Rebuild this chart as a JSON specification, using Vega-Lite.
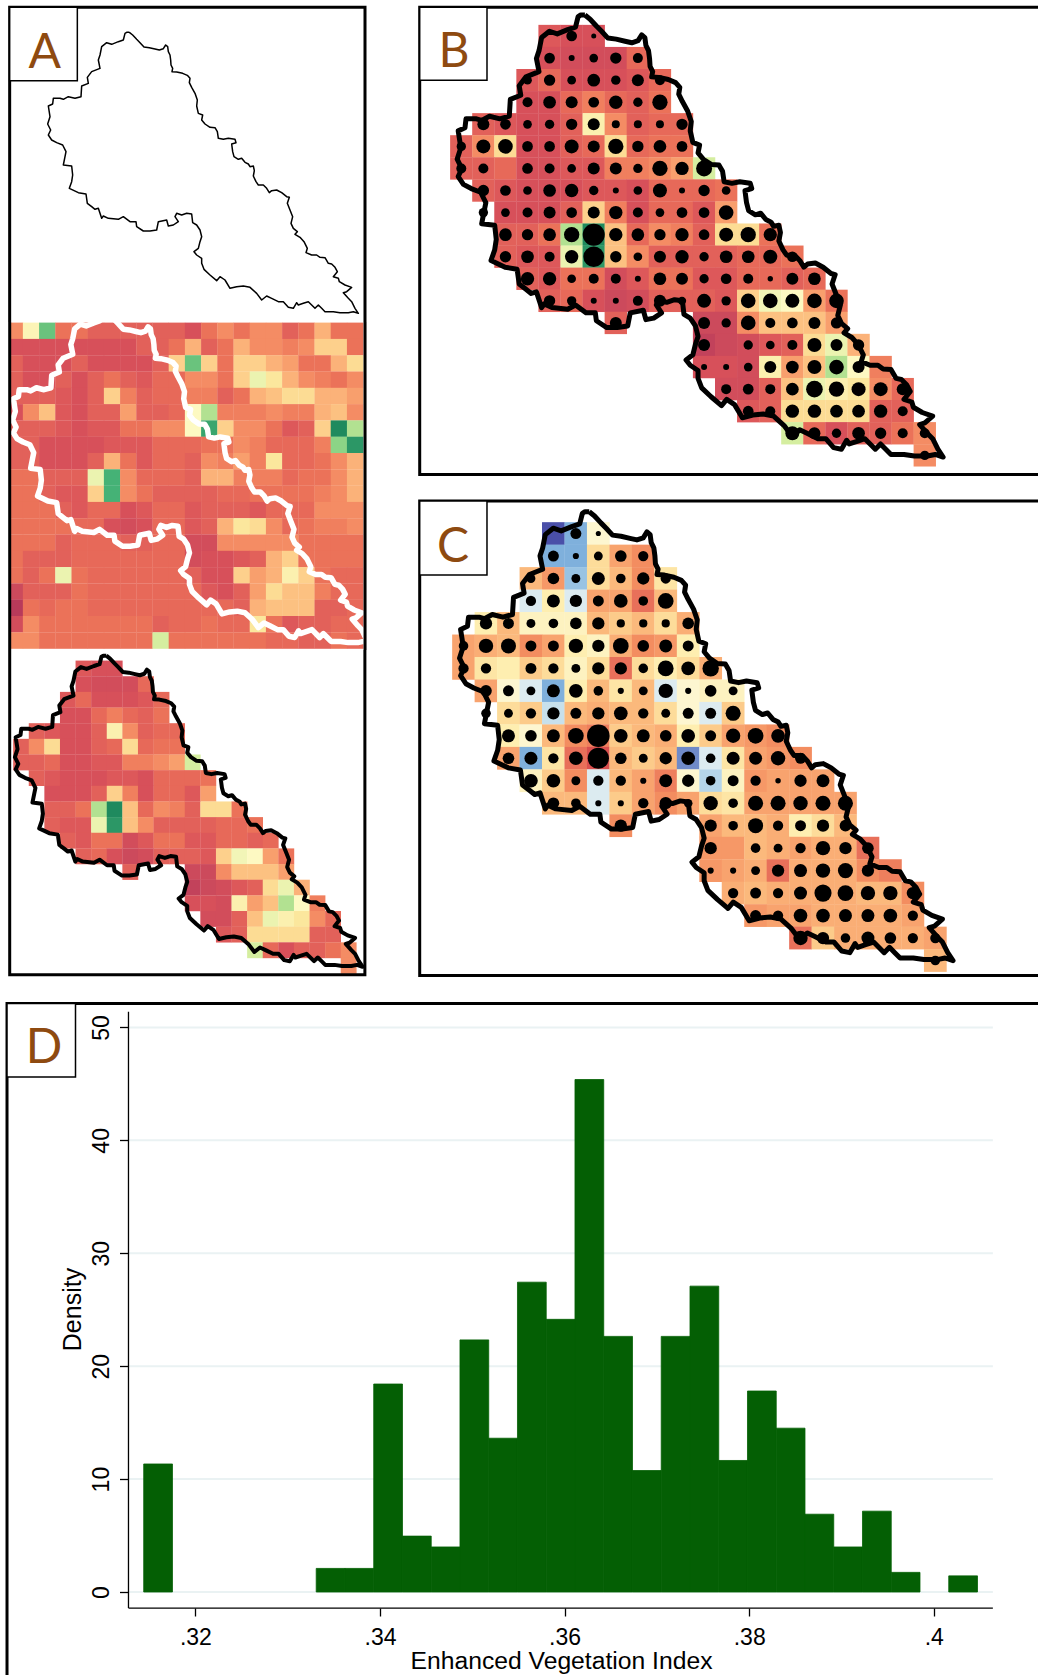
{"$schema":"https://vega.github.io/schema/vega-lite/v6.json","padding":0,"background":"white","autosize":{"type":"pad"},"spacing":0,
"resolve":{"scale":{"color":"independent","size":"independent"}},
"config":{"view":{"stroke":null},"concat":{"spacing":0}},
"datasets":{
"boundary":[[388,97],[398,105],[410,118],[420,128],[432,141],[448,143],[465,147],[478,150],[490,146],[497,135],[503,140],[505,155],[510,165],[512,180],[513,195],[518,205],[516,215],[530,216],[548,220],[562,226],[570,235],[568,248],[575,262],[585,280],[592,300],[590,318],[595,340],[608,345],[605,360],[615,372],[630,382],[645,383],[652,395],[655,415],[670,418],[685,415],[705,418],[708,428],[695,432],[698,455],[702,470],[715,478],[725,475],[735,487],[745,492],[750,500],[760,498],[763,512],[760,528],[768,545],[775,555],[790,555],[800,565],[808,578],[815,572],[830,570],[845,578],[860,590],[868,592],[862,610],[870,630],[878,650],[873,670],[880,685],[892,695],[885,703],[900,712],[912,725],[922,745],[918,758],[935,765],[950,765],[960,772],[975,773],[985,790],[995,792],[1005,802],[1012,815],[1000,830],[1015,835],[1018,845],[1035,855],[1055,862],[1040,875],[1030,878],[1045,895],[1055,905],[1065,925],[1075,940],[1060,935],[1045,938],[1020,938],[1000,935],[975,935],[965,925],[955,915],[945,925],[925,905],[910,910],[895,915],[890,908],[880,925],[865,922],[850,905],[835,905],[815,895],[800,888],[785,900],[770,880],[750,862],[730,858],[710,860],[690,865],[675,840],[660,830],[650,842],[630,825],[612,808],[605,790],[605,775],[590,765],[582,755],[595,745],[600,725],[605,710],[600,690],[590,675],[578,668],[575,642],[560,640],[545,645],[530,640],[525,650],[535,665],[520,675],[505,678],[500,660],[475,665],[470,690],[450,693],[430,693],[410,680],[408,665],[390,665],[370,650],[355,658],[325,655],[310,648],[305,655],[295,625],[285,628],[275,620],[262,610],[258,582],[235,578],[208,565],[215,545],[218,525],[215,498],[190,495],[195,470],[198,455],[188,435],[170,428],[155,420],[145,405],[152,390],[143,372],[150,350],[145,318],[158,312],[160,295],[180,295],[190,298],[205,290],[225,295],[243,290],[245,258],[265,250],[262,232],[275,215],[300,205],[295,180],[300,165],[305,140],[320,128],[335,133],[355,125],[370,120],[375,100],[380,97],[388,97]],
"raster":[
{"c":0,"r":0,"v":5},{"c":1,"r":0,"v":8.7},{"c":2,"r":0,"v":11.5},{"c":3,"r":0,"v":4},{"c":4,"r":0,"v":4},{"c":5,"r":0,"v":3},{"c":6,"r":0,"v":3},{"c":7,"r":0,"v":3},{"c":8,"r":0,"v":3},{"c":9,"r":0,"v":3},{"c":10,"r":0,"v":3},{"c":11,"r":0,"v":2},{"c":12,"r":0,"v":4},{"c":13,"r":0,"v":5},{"c":14,"r":0,"v":4},{"c":15,"r":0,"v":5},{"c":16,"r":0,"v":5},{"c":17,"r":0,"v":3},{"c":18,"r":0,"v":4},{"c":19,"r":0,"v":6},{"c":20,"r":0,"v":4},{"c":21,"r":0,"v":4},
{"c":0,"r":1,"v":2},{"c":1,"r":1,"v":2},{"c":2,"r":1,"v":2},{"c":3,"r":1,"v":2},{"c":4,"r":1,"v":2},{"c":5,"r":1,"v":2},{"c":6,"r":1,"v":2},{"c":7,"r":1,"v":2},{"c":8,"r":1,"v":3},{"c":9,"r":1,"v":3},{"c":10,"r":1,"v":4},{"c":11,"r":1,"v":6},{"c":12,"r":1,"v":3},{"c":13,"r":1,"v":4},{"c":14,"r":1,"v":6},{"c":15,"r":1,"v":5},{"c":16,"r":1,"v":5},{"c":17,"r":1,"v":4.5},{"c":18,"r":1,"v":5},{"c":19,"r":1,"v":7},{"c":20,"r":1,"v":7},{"c":21,"r":1,"v":4},
{"c":0,"r":2,"v":3},{"c":1,"r":2,"v":2},{"c":2,"r":2,"v":2},{"c":3,"r":2,"v":2},{"c":4,"r":2,"v":3},{"c":5,"r":2,"v":2},{"c":6,"r":2,"v":2},{"c":7,"r":2,"v":2},{"c":8,"r":2,"v":2},{"c":9,"r":2,"v":3},{"c":10,"r":2,"v":7},{"c":11,"r":2,"v":11.5},{"c":12,"r":2,"v":7},{"c":13,"r":2,"v":4},{"c":14,"r":2,"v":7},{"c":15,"r":2,"v":7},{"c":16,"r":2,"v":6},{"c":17,"r":2,"v":5.5},{"c":18,"r":2,"v":4},{"c":19,"r":2,"v":4},{"c":20,"r":2,"v":6},{"c":21,"r":2,"v":7.5},
{"c":0,"r":3,"v":3},{"c":1,"r":3,"v":2},{"c":2,"r":3,"v":2},{"c":3,"r":3,"v":3},{"c":4,"r":3,"v":2},{"c":5,"r":3,"v":3},{"c":6,"r":3,"v":4},{"c":7,"r":3,"v":3},{"c":8,"r":3,"v":2.5},{"c":9,"r":3,"v":3.5},{"c":10,"r":3,"v":3.5},{"c":11,"r":3,"v":5},{"c":12,"r":3,"v":5},{"c":13,"r":3,"v":4},{"c":14,"r":3,"v":7},{"c":15,"r":3,"v":9.5},{"c":16,"r":3,"v":8},{"c":17,"r":3,"v":6},{"c":18,"r":3,"v":5},{"c":19,"r":3,"v":4.5},{"c":20,"r":3,"v":4},{"c":21,"r":3,"v":5},
{"c":0,"r":4,"v":3},{"c":1,"r":4,"v":3},{"c":2,"r":4,"v":3},{"c":3,"r":4,"v":2.5},{"c":4,"r":4,"v":2},{"c":5,"r":4,"v":3},{"c":6,"r":4,"v":7},{"c":7,"r":4,"v":4.5},{"c":8,"r":4,"v":3},{"c":9,"r":4,"v":3.5},{"c":10,"r":4,"v":3.5},{"c":11,"r":4,"v":4.5},{"c":12,"r":4,"v":4.5},{"c":13,"r":4,"v":3},{"c":14,"r":4,"v":4},{"c":15,"r":4,"v":6},{"c":16,"r":4,"v":6.5},{"c":17,"r":4,"v":7.5},{"c":18,"r":4,"v":7.5},{"c":19,"r":4,"v":6},{"c":20,"r":4,"v":6},{"c":21,"r":4,"v":5.5},
{"c":0,"r":5,"v":2},{"c":1,"r":5,"v":5},{"c":2,"r":5,"v":6.5},{"c":3,"r":5,"v":2.5},{"c":4,"r":5,"v":2},{"c":5,"r":5,"v":3},{"c":6,"r":5,"v":3},{"c":7,"r":5,"v":5.5},{"c":8,"r":5,"v":3},{"c":9,"r":5,"v":3},{"c":10,"r":5,"v":3.5},{"c":11,"r":5,"v":9},{"c":12,"r":5,"v":10.5},{"c":13,"r":5,"v":4.5},{"c":14,"r":5,"v":4.5},{"c":15,"r":5,"v":4.5},{"c":16,"r":5,"v":5},{"c":17,"r":5,"v":4.5},{"c":18,"r":5,"v":4.5},{"c":19,"r":5,"v":6},{"c":20,"r":5,"v":6.5},{"c":21,"r":5,"v":5},
{"c":0,"r":6,"v":3},{"c":1,"r":6,"v":3},{"c":2,"r":6,"v":3},{"c":3,"r":6,"v":2.5},{"c":4,"r":6,"v":2},{"c":5,"r":6,"v":2.5},{"c":6,"r":6,"v":2.5},{"c":7,"r":6,"v":4},{"c":8,"r":6,"v":4},{"c":9,"r":6,"v":5},{"c":10,"r":6,"v":5},{"c":11,"r":6,"v":9},{"c":12,"r":6,"v":12.5},{"c":13,"r":6,"v":7},{"c":14,"r":6,"v":5},{"c":15,"r":6,"v":5},{"c":16,"r":6,"v":4},{"c":17,"r":6,"v":2.5},{"c":18,"r":6,"v":3},{"c":19,"r":6,"v":7},{"c":20,"r":6,"v":13.5},{"c":21,"r":6,"v":10.5},
{"c":0,"r":7,"v":3},{"c":1,"r":7,"v":3},{"c":2,"r":7,"v":2},{"c":3,"r":7,"v":2},{"c":4,"r":7,"v":2},{"c":5,"r":7,"v":2},{"c":6,"r":7,"v":2.5},{"c":7,"r":7,"v":2.5},{"c":8,"r":7,"v":2.5},{"c":9,"r":7,"v":3.5},{"c":10,"r":7,"v":3.5},{"c":11,"r":7,"v":3.5},{"c":12,"r":7,"v":4},{"c":13,"r":7,"v":4},{"c":14,"r":7,"v":5},{"c":15,"r":7,"v":4.5},{"c":16,"r":7,"v":3.5},{"c":17,"r":7,"v":3.5},{"c":18,"r":7,"v":3.5},{"c":19,"r":7,"v":4.5},{"c":20,"r":7,"v":11},{"c":21,"r":7,"v":13},
{"c":0,"r":8,"v":3},{"c":1,"r":8,"v":3},{"c":2,"r":8,"v":2},{"c":3,"r":8,"v":2},{"c":4,"r":8,"v":2},{"c":5,"r":8,"v":3},{"c":6,"r":8,"v":6},{"c":7,"r":8,"v":4},{"c":8,"r":8,"v":2.5},{"c":9,"r":8,"v":3.5},{"c":10,"r":8,"v":3.5},{"c":11,"r":8,"v":3},{"c":12,"r":8,"v":5},{"c":13,"r":8,"v":4.5},{"c":14,"r":8,"v":5.5},{"c":15,"r":8,"v":4.5},{"c":16,"r":8,"v":8},{"c":17,"r":8,"v":3.5},{"c":18,"r":8,"v":3.5},{"c":19,"r":8,"v":4},{"c":20,"r":8,"v":5},{"c":21,"r":8,"v":6},
{"c":0,"r":9,"v":4},{"c":1,"r":9,"v":4},{"c":2,"r":9,"v":3},{"c":3,"r":9,"v":3},{"c":4,"r":9,"v":3},{"c":5,"r":9,"v":9.5},{"c":6,"r":9,"v":12},{"c":7,"r":9,"v":5},{"c":8,"r":9,"v":3.5},{"c":9,"r":9,"v":3.5},{"c":10,"r":9,"v":3.5},{"c":11,"r":9,"v":3},{"c":12,"r":9,"v":6},{"c":13,"r":9,"v":6},{"c":14,"r":9,"v":4.5},{"c":15,"r":9,"v":4.5},{"c":16,"r":9,"v":4.5},{"c":17,"r":9,"v":3.5},{"c":18,"r":9,"v":4},{"c":19,"r":9,"v":4},{"c":20,"r":9,"v":5},{"c":21,"r":9,"v":6},
{"c":0,"r":10,"v":4},{"c":1,"r":10,"v":4},{"c":2,"r":10,"v":3},{"c":3,"r":10,"v":2.5},{"c":4,"r":10,"v":2.5},{"c":5,"r":10,"v":7},{"c":6,"r":10,"v":12},{"c":7,"r":10,"v":5},{"c":8,"r":10,"v":4},{"c":9,"r":10,"v":3},{"c":10,"r":10,"v":3},{"c":11,"r":10,"v":3},{"c":12,"r":10,"v":3},{"c":13,"r":10,"v":3.5},{"c":14,"r":10,"v":3.5},{"c":15,"r":10,"v":4},{"c":16,"r":10,"v":4},{"c":17,"r":10,"v":4},{"c":18,"r":10,"v":4},{"c":19,"r":10,"v":4.5},{"c":20,"r":10,"v":5},{"c":21,"r":10,"v":6},
{"c":0,"r":11,"v":4},{"c":1,"r":11,"v":4},{"c":2,"r":11,"v":4},{"c":3,"r":11,"v":3},{"c":4,"r":11,"v":2.5},{"c":5,"r":11,"v":3.5},{"c":6,"r":11,"v":3.5},{"c":7,"r":11,"v":2},{"c":8,"r":11,"v":2.5},{"c":9,"r":11,"v":3.5},{"c":10,"r":11,"v":3.5},{"c":11,"r":11,"v":2.5},{"c":12,"r":11,"v":3},{"c":13,"r":11,"v":3},{"c":14,"r":11,"v":3},{"c":15,"r":11,"v":2.5},{"c":16,"r":11,"v":3.5},{"c":17,"r":11,"v":3.5},{"c":18,"r":11,"v":3.5},{"c":19,"r":11,"v":5},{"c":20,"r":11,"v":5},{"c":21,"r":11,"v":5},
{"c":0,"r":12,"v":4},{"c":1,"r":12,"v":4},{"c":2,"r":12,"v":4},{"c":3,"r":12,"v":4},{"c":4,"r":12,"v":3.5},{"c":5,"r":12,"v":3.5},{"c":6,"r":12,"v":2},{"c":7,"r":12,"v":1.5},{"c":8,"r":12,"v":2},{"c":9,"r":12,"v":3.5},{"c":10,"r":12,"v":3.5},{"c":11,"r":12,"v":2.5},{"c":12,"r":12,"v":3},{"c":13,"r":12,"v":6},{"c":14,"r":12,"v":8},{"c":15,"r":12,"v":7.5},{"c":16,"r":12,"v":5},{"c":17,"r":12,"v":3.5},{"c":18,"r":12,"v":4},{"c":19,"r":12,"v":4.5},{"c":20,"r":12,"v":4.5},{"c":21,"r":12,"v":5},
{"c":0,"r":13,"v":4},{"c":1,"r":13,"v":4},{"c":2,"r":13,"v":4},{"c":3,"r":13,"v":3},{"c":4,"r":13,"v":3.5},{"c":5,"r":13,"v":3.5},{"c":6,"r":13,"v":3.5},{"c":7,"r":13,"v":3},{"c":8,"r":13,"v":3},{"c":9,"r":13,"v":3.5},{"c":10,"r":13,"v":3.5},{"c":11,"r":13,"v":1.5},{"c":12,"r":13,"v":1.5},{"c":13,"r":13,"v":5},{"c":14,"r":13,"v":5},{"c":15,"r":13,"v":5},{"c":16,"r":13,"v":5},{"c":17,"r":13,"v":5},{"c":18,"r":13,"v":4},{"c":19,"r":13,"v":4},{"c":20,"r":13,"v":4},{"c":21,"r":13,"v":4},
{"c":0,"r":14,"v":4},{"c":1,"r":14,"v":3},{"c":2,"r":14,"v":3},{"c":3,"r":14,"v":3},{"c":4,"r":14,"v":3.5},{"c":5,"r":14,"v":3.5},{"c":6,"r":14,"v":3.5},{"c":7,"r":14,"v":3.5},{"c":8,"r":14,"v":3.5},{"c":9,"r":14,"v":3.5},{"c":10,"r":14,"v":3.5},{"c":11,"r":14,"v":1.5},{"c":12,"r":14,"v":2},{"c":13,"r":14,"v":2},{"c":14,"r":14,"v":2.5},{"c":15,"r":14,"v":3},{"c":16,"r":14,"v":6},{"c":17,"r":14,"v":7},{"c":18,"r":14,"v":4},{"c":19,"r":14,"v":4},{"c":20,"r":14,"v":4},{"c":21,"r":14,"v":4},
{"c":0,"r":15,"v":4},{"c":1,"r":15,"v":3},{"c":2,"r":15,"v":4},{"c":3,"r":15,"v":9.5},{"c":4,"r":15,"v":4},{"c":5,"r":15,"v":3.5},{"c":6,"r":15,"v":3.5},{"c":7,"r":15,"v":3.5},{"c":8,"r":15,"v":3.5},{"c":9,"r":15,"v":3.5},{"c":10,"r":15,"v":3.5},{"c":11,"r":15,"v":3},{"c":12,"r":15,"v":2},{"c":13,"r":15,"v":2},{"c":14,"r":15,"v":7},{"c":15,"r":15,"v":5.5},{"c":16,"r":15,"v":6},{"c":17,"r":15,"v":8.5},{"c":18,"r":15,"v":7},{"c":19,"r":15,"v":4},{"c":20,"r":15,"v":3.5},{"c":21,"r":15,"v":3.5},
{"c":0,"r":16,"v":1},{"c":1,"r":16,"v":3},{"c":2,"r":16,"v":3},{"c":3,"r":16,"v":3},{"c":4,"r":16,"v":4},{"c":5,"r":16,"v":3.5},{"c":6,"r":16,"v":3.5},{"c":7,"r":16,"v":3.5},{"c":8,"r":16,"v":3.5},{"c":9,"r":16,"v":3.5},{"c":10,"r":16,"v":3.5},{"c":11,"r":16,"v":3.5},{"c":12,"r":16,"v":2.5},{"c":13,"r":16,"v":2},{"c":14,"r":16,"v":3},{"c":15,"r":16,"v":5.5},{"c":16,"r":16,"v":7.5},{"c":17,"r":16,"v":6.5},{"c":18,"r":16,"v":6.5},{"c":19,"r":16,"v":4.5},{"c":20,"r":16,"v":3.5},{"c":21,"r":16,"v":3.5},
{"c":0,"r":17,"v":0},{"c":1,"r":17,"v":4},{"c":2,"r":17,"v":3.5},{"c":3,"r":17,"v":4},{"c":4,"r":17,"v":4},{"c":5,"r":17,"v":3.5},{"c":6,"r":17,"v":3.5},{"c":7,"r":17,"v":3.5},{"c":8,"r":17,"v":3.5},{"c":9,"r":17,"v":3.5},{"c":10,"r":17,"v":3.5},{"c":11,"r":17,"v":3.5},{"c":12,"r":17,"v":3.5},{"c":13,"r":17,"v":3.5},{"c":14,"r":17,"v":3},{"c":15,"r":17,"v":6},{"c":16,"r":17,"v":6.5},{"c":17,"r":17,"v":6.5},{"c":18,"r":17,"v":6.5},{"c":19,"r":17,"v":3},{"c":20,"r":17,"v":3},{"c":21,"r":17,"v":3.5},
{"c":0,"r":18,"v":1.5},{"c":1,"r":18,"v":5},{"c":2,"r":18,"v":4},{"c":3,"r":18,"v":4},{"c":4,"r":18,"v":4},{"c":5,"r":18,"v":4},{"c":6,"r":18,"v":4},{"c":7,"r":18,"v":4},{"c":8,"r":18,"v":4},{"c":9,"r":18,"v":3},{"c":10,"r":18,"v":3.5},{"c":11,"r":18,"v":3.5},{"c":12,"r":18,"v":4},{"c":13,"r":18,"v":3.5},{"c":14,"r":18,"v":3.5},{"c":15,"r":18,"v":8},{"c":16,"r":18,"v":4},{"c":17,"r":18,"v":2.5},{"c":18,"r":18,"v":3},{"c":19,"r":18,"v":3},{"c":20,"r":18,"v":3.5},{"c":21,"r":18,"v":3.5},
{"c":0,"r":19,"v":5},{"c":1,"r":19,"v":5},{"c":2,"r":19,"v":4},{"c":3,"r":19,"v":4},{"c":4,"r":19,"v":4},{"c":5,"r":19,"v":4},{"c":6,"r":19,"v":4},{"c":7,"r":19,"v":4},{"c":8,"r":19,"v":4},{"c":9,"r":19,"v":10},{"c":10,"r":19,"v":4},{"c":11,"r":19,"v":4},{"c":12,"r":19,"v":4},{"c":13,"r":19,"v":4},{"c":14,"r":19,"v":4},{"c":15,"r":19,"v":4},{"c":16,"r":19,"v":3.5},{"c":17,"r":19,"v":3.5},{"c":18,"r":19,"v":3},{"c":19,"r":19,"v":3},{"c":20,"r":19,"v":4},{"c":21,"r":19,"v":3.5}],
"cells":[
{"g":4,"h":0,"v":2.5,"w":-5,"d":0},{"g":5,"h":0,"v":2,"w":-3,"d":32},{"g":6,"h":0,"v":2,"w":0,"d":15},
{"g":4,"h":1,"v":2,"w":-3,"d":32},{"g":5,"h":1,"v":1.5,"w":-3,"d":18},{"g":6,"h":1,"v":1.5,"w":2,"d":26},{"g":7,"h":1,"v":1.5,"w":4,"d":34},{"g":8,"h":1,"v":3.5,"w":5,"d":30},
{"g":3,"h":2,"v":2.5,"w":3,"d":26},{"g":4,"h":2,"v":3.5,"w":4.5,"d":34},{"g":5,"h":2,"v":2,"w":-2.5,"d":26},{"g":6,"h":2,"v":2,"w":2,"d":38},{"g":7,"h":2,"v":2,"w":3,"d":28},{"g":8,"h":2,"v":2.5,"w":5,"d":36},{"g":9,"h":2,"v":3.5,"w":1.5,"d":30},
{"g":3,"h":3,"v":2,"w":-1,"d":30},{"g":4,"h":3,"v":2,"w":1,"d":38},{"g":5,"h":3,"v":3.5,"w":-1,"d":36},{"g":6,"h":3,"v":4.5,"w":4,"d":32},{"g":7,"h":3,"v":3.5,"w":4,"d":40},{"g":8,"h":3,"v":3,"w":6,"d":28},{"g":9,"h":3,"v":4,"w":3,"d":46},
{"g":1,"h":4,"v":3,"w":1,"d":36},{"g":2,"h":4,"v":2.5,"w":3,"d":32},{"g":3,"h":4,"v":2,"w":0.5,"d":26},{"g":4,"h":4,"v":2,"w":0.5,"d":28},{"g":5,"h":4,"v":3,"w":0.5,"d":34},{"g":6,"h":4,"v":8.5,"w":3,"d":36},{"g":7,"h":4,"v":5,"w":2.5,"d":24},{"g":8,"h":4,"v":3,"w":3,"d":24},{"g":9,"h":4,"v":3.5,"w":2,"d":24},{"g":10,"h":4,"v":3.5,"w":3.5,"d":34},
{"g":0,"h":5,"v":3,"w":4,"d":28},{"g":1,"h":5,"v":5,"w":3.5,"d":42},{"g":2,"h":5,"v":7.5,"w":3,"d":44},{"g":3,"h":5,"v":2,"w":5,"d":32},{"g":4,"h":5,"v":2,"w":4,"d":32},{"g":5,"h":5,"v":3,"w":1,"d":42},{"g":6,"h":5,"v":3.5,"w":0.5,"d":36},{"g":7,"h":5,"v":7.5,"w":3.5,"d":46},{"g":8,"h":5,"v":3.5,"w":5,"d":34},{"g":9,"h":5,"v":4,"w":4.5,"d":38},{"g":10,"h":5,"v":4,"w":1,"d":32},
{"g":0,"h":6,"v":3,"w":4,"d":30},{"g":1,"h":6,"v":3,"w":1.5,"d":30},{"g":2,"h":6,"v":3.5,"w":1,"d":0},{"g":3,"h":6,"v":2,"w":2.5,"d":32},{"g":4,"h":6,"v":2,"w":2,"d":30},{"g":5,"h":6,"v":2.5,"w":0.5,"d":26},{"g":6,"h":6,"v":2.5,"w":2,"d":36},{"g":7,"h":6,"v":4.5,"w":6,"d":36},{"g":8,"h":6,"v":4.5,"w":2,"d":28},{"g":9,"h":6,"v":5,"w":1,"d":46},{"g":10,"h":6,"v":5.5,"w":2,"d":40},{"g":11,"h":6,"v":10,"w":3.5,"d":48},
{"g":1,"h":7,"v":3,"w":4,"d":34},{"g":2,"h":7,"v":2.5,"w":0,"d":32},{"g":3,"h":7,"v":2,"w":-1,"d":26},{"g":4,"h":7,"v":2,"w":-3,"d":38},{"g":5,"h":7,"v":2,"w":1,"d":40},{"g":6,"h":7,"v":2.5,"w":3,"d":28},{"g":7,"h":7,"v":2.5,"w":1.5,"d":18},{"g":8,"h":7,"v":2,"w":3,"d":26},{"g":9,"h":7,"v":3.5,"w":-1,"d":42},{"g":10,"h":7,"v":3.5,"w":0,"d":18},{"g":11,"h":7,"v":3.5,"w":0.5,"d":34},{"g":12,"h":7,"v":4,"w":0.5,"d":26},
{"g":1,"h":8,"d":28},{"g":2,"h":8,"v":2,"w":2,"d":26},{"g":3,"h":8,"v":2,"w":2.5,"d":30},{"g":4,"h":8,"v":2,"w":-1.5,"d":36},{"g":5,"h":8,"v":3,"w":3,"d":32},{"g":6,"h":8,"v":7,"w":3.5,"d":36},{"g":7,"h":8,"v":4.5,"w":3,"d":40},{"g":8,"h":8,"v":2,"w":3,"d":30},{"g":9,"h":8,"v":3.5,"w":2,"d":26},{"g":10,"h":8,"v":3.5,"w":0,"d":32},{"g":11,"h":8,"v":2.5,"w":-1,"d":32},{"g":12,"h":8,"v":5.5,"w":2.5,"d":44},
{"g":2,"h":9,"v":3,"w":1,"d":38},{"g":3,"h":9,"v":3,"w":0,"d":34},{"g":4,"h":9,"v":4,"w":3,"d":38},{"g":5,"h":9,"v":10.5,"w":5,"d":46},{"g":6,"h":9,"v":13.5,"w":5.5,"d":66},{"g":7,"h":9,"v":6.5,"w":2.5,"d":40},{"g":8,"h":9,"v":3.5,"w":3,"d":38},{"g":9,"h":9,"v":5,"w":3.5,"d":34},{"g":10,"h":9,"v":4.5,"w":1,"d":40},{"g":11,"h":9,"v":3,"w":2.5,"d":32},{"g":12,"h":9,"v":7.5,"w":4,"d":42},{"g":13,"h":9,"v":7.5,"w":4.5,"d":46},{"g":14,"h":9,"v":4,"w":5,"d":40},
{"g":2,"h":10,"v":3,"w":4,"d":34},{"g":3,"h":10,"v":2.5,"w":-3,"d":38},{"g":4,"h":10,"v":2.5,"w":1.5,"d":30},{"g":5,"h":10,"v":9.5,"w":6,"d":40},{"g":6,"h":10,"v":13,"w":7,"d":62},{"g":7,"h":10,"v":6.5,"w":3,"d":34},{"g":8,"h":10,"v":5,"w":2.5,"d":26},{"g":9,"h":10,"v":3,"w":3,"d":36},{"g":10,"h":10,"v":3,"w":-4,"d":40},{"g":11,"h":10,"v":3,"w":-1,"d":28},{"g":12,"h":10,"v":3,"w":1.5,"d":38},{"g":13,"h":10,"v":3.5,"w":4,"d":38},{"g":14,"h":10,"v":3.5,"w":4.5,"d":42},{"g":15,"h":10,"v":4,"w":5,"d":32},
{"g":3,"h":11,"v":3,"w":0.5,"d":40},{"g":4,"h":11,"v":2.5,"w":2.5,"d":40},{"g":5,"h":11,"v":4,"w":5,"d":26},{"g":6,"h":11,"v":4,"w":-1,"d":30},{"g":7,"h":11,"v":1.5,"w":3,"d":30},{"g":8,"h":11,"v":2.5,"w":4,"d":18},{"g":9,"h":11,"v":4,"w":5.5,"d":38},{"g":10,"h":11,"v":4,"w":0,"d":36},{"g":11,"h":11,"v":2.5,"w":-2,"d":28},{"g":12,"h":11,"v":2.5,"w":0.5,"d":32},{"g":13,"h":11,"v":3.5,"w":4.5,"d":30},{"g":14,"h":11,"v":3.5,"w":4,"d":16},{"g":15,"h":11,"v":3,"w":4,"d":36},{"g":16,"h":11,"v":3.5,"w":4,"d":38},
{"g":4,"h":12,"v":3,"w":3,"d":34},{"g":5,"h":12,"v":3.5,"w":3,"d":28},{"g":6,"h":12,"v":2,"w":-1,"d":18},{"g":7,"h":12,"v":1,"w":2.5,"d":18},{"g":8,"h":12,"v":1.5,"w":4,"d":30},{"g":9,"h":12,"v":3,"w":5,"d":36},{"g":10,"h":12,"v":3,"w":4,"d":25},{"g":11,"h":12,"v":3,"w":2,"d":42},{"g":12,"h":12,"v":2.5,"w":1.5,"d":28},{"g":13,"h":12,"v":7,"w":4,"d":44},{"g":14,"h":12,"v":9.3,"w":4,"d":44},{"g":15,"h":12,"v":9,"w":4,"d":42},{"g":16,"h":12,"v":5.5,"w":4,"d":44},{"g":17,"h":12,"v":4,"w":4,"d":44},
{"g":7,"h":13,"v":3,"w":5,"d":36},{"g":11,"h":13,"v":1,"w":4,"d":36},{"g":12,"h":13,"v":1,"w":3,"d":28},{"g":13,"h":13,"v":5,"w":3,"d":44},{"g":14,"h":13,"v":6.5,"w":3.5,"d":30},{"g":15,"h":13,"v":6.5,"w":1,"d":32},{"g":16,"h":13,"v":6.5,"w":2,"d":36},{"g":17,"h":13,"v":5.5,"w":3,"d":34},
{"g":11,"h":14,"v":0.5,"w":4.5,"d":36},{"g":12,"h":14,"v":1,"w":4.5,"d":0},{"g":13,"h":14,"v":1.5,"w":3,"d":28},{"g":14,"h":14,"v":2.5,"w":3.5,"d":26},{"g":15,"h":14,"v":3,"w":4,"d":30},{"g":16,"h":14,"v":7.5,"w":3.5,"d":42},{"g":17,"h":14,"v":9.5,"w":3.5,"d":36},{"g":18,"h":14,"v":6,"w":6,"d":34},
{"g":11,"h":15,"v":2,"w":4.5,"d":18},{"g":12,"h":15,"v":2,"w":4,"d":18},{"g":13,"h":15,"v":1.5,"w":3.5,"d":26},{"g":14,"h":15,"v":8.5,"w":6,"d":36},{"g":15,"h":15,"v":5.5,"w":3.5,"d":38},{"g":16,"h":15,"v":6.5,"w":3.5,"d":42},{"g":17,"h":15,"v":10.5,"w":3.5,"d":44},{"g":18,"h":15,"v":9,"w":5,"d":36},{"g":19,"h":15,"v":4.5,"w":5.5,"d":0},
{"g":12,"h":16,"v":1.5,"w":3.5,"d":30},{"g":13,"h":16,"v":1.5,"w":3,"d":32},{"g":14,"h":16,"v":3,"w":3.5,"d":30},{"g":15,"h":16,"v":6.5,"w":3.5,"d":38},{"g":16,"h":16,"v":9.5,"w":3.5,"d":50},{"g":17,"h":16,"v":8.5,"w":3.5,"d":46},{"g":18,"h":16,"v":8,"w":3,"d":42},{"g":19,"h":16,"v":5,"w":3,"d":42},{"g":20,"h":16,"v":3.5,"w":5,"d":36},
{"g":13,"h":17,"v":2.5,"w":4.5,"d":32},{"g":14,"h":17,"v":3,"w":4,"d":30},{"g":15,"h":17,"v":7.5,"w":4,"d":40},{"g":16,"h":17,"v":7.5,"w":3.5,"d":40},{"g":17,"h":17,"v":7.5,"w":3.5,"d":38},{"g":18,"h":17,"v":7.5,"w":3.5,"d":38},{"g":19,"h":17,"v":3,"w":3.5,"d":40},{"g":20,"h":17,"v":3,"w":4,"d":30},
{"g":15,"h":18,"v":10,"w":6,"d":42},{"g":16,"h":18,"v":3.5,"w":2.5,"d":36},{"g":17,"h":18,"v":2,"w":3.5,"d":28},{"g":18,"h":18,"v":3,"w":3.5,"d":38},{"g":19,"h":18,"v":3,"w":3.5,"d":34},{"g":20,"h":18,"v":4,"w":3.5,"d":30},{"g":21,"h":18,"v":5,"w":4,"d":30},
{"g":21,"h":19,"v":5,"w":3,"d":28}],
"hist":[{"a":0.3144,"b":0.317515,"f":11.34},{"a":0.33309,"b":0.336205,"f":2.09},{"a":0.336205,"b":0.33932,"f":2.09},{"a":0.33932,"b":0.342435,"f":18.42},{"a":0.342435,"b":0.34555,"f":4.95},{"a":0.34555,"b":0.348665,"f":3.99},{"a":0.348665,"b":0.35178,"f":22.33},{"a":0.35178,"b":0.354895,"f":13.62},{"a":0.354895,"b":0.35801,"f":27.44},{"a":0.35801,"b":0.361125,"f":24.15},{"a":0.361125,"b":0.36424,"f":45.39},{"a":0.36424,"b":0.367355,"f":22.64},{"a":0.367355,"b":0.37047,"f":10.76},{"a":0.37047,"b":0.373585,"f":22.64},{"a":0.373585,"b":0.3767,"f":27.09},{"a":0.3767,"b":0.379815,"f":11.65},{"a":0.379815,"b":0.38293,"f":17.8},{"a":0.38293,"b":0.386045,"f":14.51},{"a":0.386045,"b":0.38916,"f":6.89},{"a":0.38916,"b":0.392275,"f":3.99},{"a":0.392275,"b":0.39539,"f":7.16},{"a":0.39539,"b":0.398505,"f":1.74},{"a":0.40162,"b":0.404735,"f":1.43}],
"ticks":[{"t":0},{"t":10},{"t":20},{"t":30},{"t":40},{"t":50}]
},
"vconcat":[
{"resolve":{"scale":{"color":"independent","size":"independent"}},"hconcat":[
{"resolve":{"scale":{"color":"independent","size":"independent"}},"vconcat":[
{"width":390,"height":322,"layer":[
{"data":{"values":[{"x0":29,"x1":1095,"y0":22,"y1":2000}]},"mark":{"type":"rect","fill":"white","stroke":"black","strokeWidth":3,"clip":true},"encoding":{"x":{"field":"x0","type":"quantitative","axis":null,"scale":{"domain":[0,1170],"nice":false,"zero":false}},"x2":{"field":"x1"},"y":{"field":"y0","type":"quantitative","axis":null,"scale":{"domain":[0,966],"reverse":true,"nice":false,"zero":false}},"y2":{"field":"y1"}}},
{"data":{"name":"boundary"},"transform":[{"calculate":"datum[0]","as":"lon"},{"calculate":"datum[1]","as":"lat"}],"mark":{"type":"line","color":"black","strokeWidth":1.5,"clip":true,"strokeJoin":"round"},"encoding":{"order":{"value":null},"x":{"field":"lon","type":"quantitative","axis":null,"scale":{"domain":[0,1170],"nice":false,"zero":false}},"y":{"field":"lat","type":"quantitative","axis":null,"scale":{"domain":[0,966],"reverse":true,"nice":false,"zero":false}}}},
{"data":{"values":[{"x0":29,"x1":232,"y0":22,"y1":242}]},"mark":{"type":"rect","fill":"white","stroke":"black","strokeWidth":1.5,"clip":true},"encoding":{"x":{"field":"x0","type":"quantitative","axis":null,"scale":{"domain":[0,1170],"nice":false,"zero":false}},"x2":{"field":"x1"},"y":{"field":"y0","type":"quantitative","axis":null,"scale":{"domain":[0,966],"reverse":true,"nice":false,"zero":false}},"y2":{"field":"y1"}}},
{"data":{"values":[{"x":134,"y":205,"t":"A"}]},"mark":{"type":"text","font":"Lato","fontSize":48,"color":"#8e4a10","align":"center","baseline":"alphabetic"},"encoding":{"text":{"field":"t"},"x":{"field":"x","type":"quantitative","axis":null,"scale":{"domain":[0,1170],"nice":false,"zero":false}},"y":{"field":"y","type":"quantitative","axis":null,"scale":{"domain":[0,966],"reverse":true,"nice":false,"zero":false}}}}
]},
{"width":390,"height":328,"resolve":{"scale":{"x":"independent","y":"independent"}},"layer":[
{"data":{"name":"raster"},"mark":{"type":"square","size":272,"filled":true,"opacity":1,"clip":true},"encoding":{"x":{"field":"c","type":"quantitative","axis":null,"scale":{"domain":[-0.92,23.15],"nice":false,"zero":false}},"y":{"field":"r","type":"quantitative","axis":null,"scale":{"domain":[-0.543,19.58],"reverse":true,"nice":false,"zero":false}},"color":{"field":"v","type":"quantitative","legend":null,"scale":{"domain":[0,1,2,3,4,5,6,7,8,9,10,11,12,13.5],"range":["#b83a5a","#cc4a5c","#d7505a","#e2615a","#eb7259","#f48c64","#fbb279","#fdd08c","#fbe79d","#fdf9c2","#d5eea0","#8cd486","#45b276","#1f8a5e"]}}}},
{"data":{"name":"boundary"},"transform":[{"calculate":"datum[0]","as":"lon"},{"calculate":"datum[1]","as":"lat"}],"mark":{"type":"line","color":"white","strokeWidth":5.5,"clip":true,"strokeJoin":"round"},"encoding":{"order":{"value":null},"x":{"field":"lon","type":"quantitative","axis":null,"scale":{"domain":[109.9,1129],"nice":false,"zero":false}},"y":{"field":"lat","type":"quantitative","axis":null,"scale":{"domain":[122.8,956.8],"reverse":true,"nice":false,"zero":false}}}},
{"data":{"values":[{"x0":-3,"x1":-0.321,"y0":-5,"y1":25}]},"mark":{"type":"rect","fill":"white","stroke":"black","strokeWidth":3,"clip":true},"encoding":{"x":{"field":"x0","type":"quantitative","axis":null,"scale":{"domain":[-0.92,23.15],"nice":false,"zero":false}},"x2":{"field":"x1"},"y":{"field":"y0","type":"quantitative","axis":null,"scale":{"domain":[-0.543,19.58],"reverse":true,"nice":false,"zero":false}},"y2":{"field":"y1"}}},
{"data":{"values":[{"x0":21.61,"x1":30,"y0":-5,"y1":25}]},"mark":{"type":"rect","fill":"white","stroke":"black","strokeWidth":3,"clip":true},"encoding":{"x":{"field":"x0","type":"quantitative","axis":null,"scale":{"domain":[-0.92,23.15],"nice":false,"zero":false}},"x2":{"field":"x1"},"y":{"field":"y0","type":"quantitative","axis":null,"scale":{"domain":[-0.543,19.58],"reverse":true,"nice":false,"zero":false}},"y2":{"field":"y1"}}}
]},
{"width":390,"height":335,"resolve":{"scale":{"x":"independent","y":"independent"}},"layer":[
{"data":{"name":"cells"},"transform":[{"filter":"isValid(datum.v)"}],"mark":{"type":"square","size":252,"filled":true,"opacity":1,"clip":true},"encoding":{"x":{"field":"g","type":"quantitative","axis":null,"scale":{"domain":[-1.353,23.65],"nice":false,"zero":false}},"y":{"field":"h","type":"quantitative","axis":null,"scale":{"domain":[-1.183,20.22],"reverse":true,"nice":false,"zero":false}},"color":{"field":"v","type":"quantitative","legend":null,"scale":{"domain":[0,1,2,3,4,5,6,7,8,9,10,11,12,13.5],"range":["#b83a5a","#cc4a5c","#d7505a","#e2615a","#eb7259","#f48c64","#fbb279","#fdd08c","#fbe79d","#fdf9c2","#d5eea0","#8cd486","#45b276","#1f8a5e"]}}}},
{"data":{"name":"boundary"},"transform":[{"calculate":"datum[0]","as":"lon"},{"calculate":"datum[1]","as":"lat"}],"mark":{"type":"line","color":"black","strokeWidth":4,"clip":true,"strokeJoin":"round"},"encoding":{"order":{"value":null},"x":{"field":"lon","type":"quantitative","axis":null,"scale":{"domain":[103,1148.6],"nice":false,"zero":false}},"y":{"field":"lat","type":"quantitative","axis":null,"scale":{"domain":[81.6,989.5],"reverse":true,"nice":false,"zero":false}}}},
{"data":{"values":[{"x0":-0.731,"x1":22.04,"y0":-5,"y1":19.56}]},"mark":{"type":"rect","fill":null,"stroke":"black","strokeWidth":3,"clip":true},"encoding":{"x":{"field":"x0","type":"quantitative","axis":null,"scale":{"domain":[-1.353,23.65],"nice":false,"zero":false}},"x2":{"field":"x1"},"y":{"field":"y0","type":"quantitative","axis":null,"scale":{"domain":[-1.183,20.22],"reverse":true,"nice":false,"zero":false}},"y2":{"field":"y1"}}}
]}
]},
{"resolve":{"scale":{"color":"independent","size":"independent"}},"vconcat":[
{"width":648,"height":488,"resolve":{"scale":{"x":"independent","y":"independent"}},"layer":[
{"data":{"values":[{"x0":-1.885,"x1":40,"y0":-1.302,"y1":19.87}]},"mark":{"type":"rect","fill":"white","stroke":"black","strokeWidth":3,"clip":true},"encoding":{"x":{"field":"x0","type":"quantitative","axis":null,"scale":{"domain":[-3.231,26.13],"nice":false,"zero":false}},"x2":{"field":"x1"},"y":{"field":"y0","type":"quantitative","axis":null,"scale":{"domain":[-1.633,20.48],"reverse":true,"nice":false,"zero":false}},"y2":{"field":"y1"}}},
{"data":{"name":"cells"},"transform":[{"filter":"isValid(datum.v)"}],"mark":{"type":"square","size":500,"filled":true,"opacity":1,"clip":true},"encoding":{"x":{"field":"g","type":"quantitative","axis":null,"scale":{"domain":[-3.231,26.13],"nice":false,"zero":false}},"y":{"field":"h","type":"quantitative","axis":null,"scale":{"domain":[-1.633,20.48],"reverse":true,"nice":false,"zero":false}},"color":{"field":"v","type":"quantitative","legend":null,"scale":{"domain":[0,1,2,3,4,5,6,7,8,9,10,11,12,13.5],"range":["#b83a5a","#cc4a5c","#d7505a","#e2615a","#eb7259","#f48c64","#fbb279","#fdd08c","#fbe79d","#fdf9c2","#d5eea0","#8cd486","#45b276","#1f8a5e"]}}}},
{"data":{"name":"cells"},"transform":[{"filter":"datum.d>0"}],"mark":{"type":"circle","color":"black","opacity":1,"clip":true},"encoding":{"x":{"field":"g","type":"quantitative","axis":null,"scale":{"domain":[-3.231,26.13],"nice":false,"zero":false}},"y":{"field":"h","type":"quantitative","axis":null,"scale":{"domain":[-1.633,20.48],"reverse":true,"nice":false,"zero":false}},"size":{"field":"d","type":"quantitative","legend":null,"scale":{"type":"pow","exponent":2,"domain":[0,66],"range":[0,484]}}}},
{"data":{"name":"boundary"},"transform":[{"calculate":"datum[0]","as":"lon"},{"calculate":"datum[1]","as":"lat"}],"mark":{"type":"line","color":"black","strokeWidth":5,"clip":true,"strokeJoin":"round"},"encoding":{"order":{"value":null},"x":{"field":"lon","type":"quantitative","axis":null,"scale":{"domain":[14.2,1257],"nice":false,"zero":false}},"y":{"field":"lat","type":"quantitative","axis":null,"scale":{"domain":[68.4,999],"reverse":true,"nice":false,"zero":false}}}},
{"data":{"values":[{"x0":-1.885,"x1":1.164,"y0":-1.302,"y1":2.0}]},"mark":{"type":"rect","fill":"white","stroke":"black","strokeWidth":1.5,"clip":true},"encoding":{"x":{"field":"x0","type":"quantitative","axis":null,"scale":{"domain":[-3.231,26.13],"nice":false,"zero":false}},"x2":{"field":"x1"},"y":{"field":"y0","type":"quantitative","axis":null,"scale":{"domain":[-1.633,20.48],"reverse":true,"nice":false,"zero":false}},"y2":{"field":"y1"}}},
{"data":{"values":[{"x":-0.33,"y":1.39,"t":"B"}]},"mark":{"type":"text","font":"Lato","fontSize":48,"color":"#8e4a10","align":"center","baseline":"alphabetic"},"encoding":{"text":{"field":"t"},"x":{"field":"x","type":"quantitative","axis":null,"scale":{"domain":[-3.231,26.13],"nice":false,"zero":false}},"y":{"field":"y","type":"quantitative","axis":null,"scale":{"domain":[-1.633,20.48],"reverse":true,"nice":false,"zero":false}}}}
]},
{"width":648,"height":497,"resolve":{"scale":{"x":"independent","y":"independent"}},"layer":[
{"data":{"values":[{"x0":-1.951,"x1":40,"y0":-1.448,"y1":19.67}]},"mark":{"type":"rect","fill":"white","stroke":"black","strokeWidth":3,"clip":true},"encoding":{"x":{"field":"x0","type":"quantitative","axis":null,"scale":{"domain":[-3.273,25.57],"nice":false,"zero":false}},"x2":{"field":"x1"},"y":{"field":"y0","type":"quantitative","axis":null,"scale":{"domain":[-2.027,20.09],"reverse":true,"nice":false,"zero":false}},"y2":{"field":"y1"}}},
{"data":{"name":"cells"},"transform":[{"filter":"isValid(datum.w)"}],"mark":{"type":"square","size":518,"filled":true,"opacity":1,"clip":true},"encoding":{"x":{"field":"g","type":"quantitative","axis":null,"scale":{"domain":[-3.273,25.57],"nice":false,"zero":false}},"y":{"field":"h","type":"quantitative","axis":null,"scale":{"domain":[-2.027,20.09],"reverse":true,"nice":false,"zero":false}},"color":{"field":"w","type":"quantitative","legend":null,"scale":{"domain":[-5,-4,-3,-2,-1,0,1,2,3,4,5,6,7],"range":["#4a4fa8","#6f8ac8","#7fb0dc","#b5d5ea","#dcebf0","#fdf6d0","#feeeb0","#fddc9a","#fbb97c","#f8a36e","#f38d60","#e8705a","#d9504f"]}}}},
{"data":{"name":"cells"},"transform":[{"filter":"datum.d>0"}],"mark":{"type":"circle","color":"black","opacity":1,"clip":true},"encoding":{"x":{"field":"g","type":"quantitative","axis":null,"scale":{"domain":[-3.273,25.57],"nice":false,"zero":false}},"y":{"field":"h","type":"quantitative","axis":null,"scale":{"domain":[-2.027,20.09],"reverse":true,"nice":false,"zero":false}},"size":{"field":"d","type":"quantitative","legend":null,"scale":{"type":"pow","exponent":2,"domain":[0,66],"range":[0,510]}}}},
{"data":{"name":"boundary"},"transform":[{"calculate":"datum[0]","as":"lon"},{"calculate":"datum[1]","as":"lat"}],"mark":{"type":"line","color":"black","strokeWidth":5,"clip":true,"strokeJoin":"round"},"encoding":{"order":{"value":null},"x":{"field":"lon","type":"quantitative","axis":null,"scale":{"domain":[11.7,1235.5],"nice":false,"zero":false}},"y":{"field":"lat","type":"quantitative","axis":null,"scale":{"domain":[52.5,985.7],"reverse":true,"nice":false,"zero":false}}}},
{"data":{"values":[{"x0":-1.951,"x1":1.044,"y0":-1.448,"y1":1.845}]},"mark":{"type":"rect","fill":"white","stroke":"black","strokeWidth":1.5,"clip":true},"encoding":{"x":{"field":"x0","type":"quantitative","axis":null,"scale":{"domain":[-3.273,25.57],"nice":false,"zero":false}},"x2":{"field":"x1"},"y":{"field":"y0","type":"quantitative","axis":null,"scale":{"domain":[-2.027,20.09],"reverse":true,"nice":false,"zero":false}},"y2":{"field":"y1"}}},
{"data":{"values":[{"x":-0.47,"y":1.253,"t":"C"}]},"mark":{"type":"text","font":"Lato","fontSize":48,"color":"#8e4a10","align":"center","baseline":"alphabetic"},"encoding":{"text":{"field":"t"},"x":{"field":"x","type":"quantitative","axis":null,"scale":{"domain":[-3.273,25.57],"nice":false,"zero":false}},"y":{"field":"y","type":"quantitative","axis":null,"scale":{"domain":[-2.027,20.09],"reverse":true,"nice":false,"zero":false}}}}
]}
]}
]},
{"width":1038,"height":690,"layer":[
{"data":{"values":[{"x0":0.29959,"x1":0.5,"y0":52.13,"y1":-100}]},"mark":{"type":"rect","fill":"white","stroke":"black","strokeWidth":3,"clip":true},"encoding":{"x":{"field":"x0","type":"quantitative","scale":{"domain":[0.29883,0.41129],"nice":false,"zero":false},"axis":{"zindex":1,"values":[0.32,0.34,0.36,0.38,0.4],"labelExpr":"replace(format(datum.value,'.2~f'),'0.','.')","title":"Enhanced Vegetation Index","domain":false,"grid":false,"offset":-67,"tickSize":8,"tickColor":"black","tickWidth":1.3,"labelFont":"Liberation Sans","labelFontSize":23,"labelColor":"black","labelPadding":10,"labelOverlap":false,"labelFlush":false,"labelBound":false,"titleFont":"Liberation Sans","titleFontSize":24.7,"titleFontWeight":"normal","titleColor":"black","titleX":561,"titleY":60,"titleBaseline":"alphabetic","titleAlign":"center"}},"x2":{"field":"x1"},"y":{"field":"y0","type":"quantitative","scale":{"domain":[-7.35,53.76],"nice":false,"zero":false},"axis":{"zindex":1,"values":[0,10,20,30,40,50],"title":"Density","domain":false,"grid":false,"offset":-128.5,"tickSize":9,"tickColor":"black","tickWidth":1.3,"labelFont":"Liberation Sans","labelFontSize":23,"labelColor":"black","labelAngle":-90,"labelPadding":6,"labelOverlap":false,"labelFlush":false,"labelBound":false,"titleFont":"Liberation Sans","titleFontSize":25,"titleFontWeight":"normal","titleColor":"black","titleX":-48.5,"titleY":324,"titleAngle":-90,"titleBaseline":"alphabetic","titleAlign":"center"}},"y2":{"field":"y1"}}},
{"data":{"name":"ticks"},"mark":{"type":"rule","color":"#eaf2f3","strokeWidth":2},"encoding":{"y":{"field":"t","type":"quantitative"},"x":{"datum":0.31275},"x2":{"datum":0.4064}}},
{"data":{"name":"hist"},"mark":{"type":"bar","color":"#045f04","opacity":1,"stroke":"#045f04","strokeWidth":0.8},"encoding":{"x":{"field":"a","type":"quantitative"},"x2":{"field":"b"},"y":{"field":"f","type":"quantitative"},"y2":{"datum":0}}},
{"data":{"values":[{"k":1}]},"mark":{"type":"rule","color":"black","strokeWidth":1.3},"encoding":{"x":{"datum":0.31275},"y":{"datum":-1.42},"y2":{"datum":51.38}}},
{"data":{"values":[{"k":1}]},"mark":{"type":"rule","color":"black","strokeWidth":1.3},"encoding":{"y":{"datum":-1.42},"x":{"datum":0.31275},"x2":{"datum":0.4064}}},
{"data":{"values":[{"x0":0.29959,"x1":0.30701,"y0":52.13,"y1":45.62}]},"mark":{"type":"rect","fill":"white","stroke":"black","strokeWidth":1.5,"clip":true},"encoding":{"x":{"field":"x0","type":"quantitative"},"x2":{"field":"x1"},"y":{"field":"y0","type":"quantitative"},"y2":{"field":"y1"}}},
{"data":{"values":[{"x":0.3036,"y":46.82,"t":"D"}]},"mark":{"type":"text","font":"Lato","fontSize":48,"color":"#8e4a10","align":"center","baseline":"alphabetic"},"encoding":{"text":{"field":"t"},"x":{"field":"x","type":"quantitative"},"y":{"field":"y","type":"quantitative"}}}
]}
]}
